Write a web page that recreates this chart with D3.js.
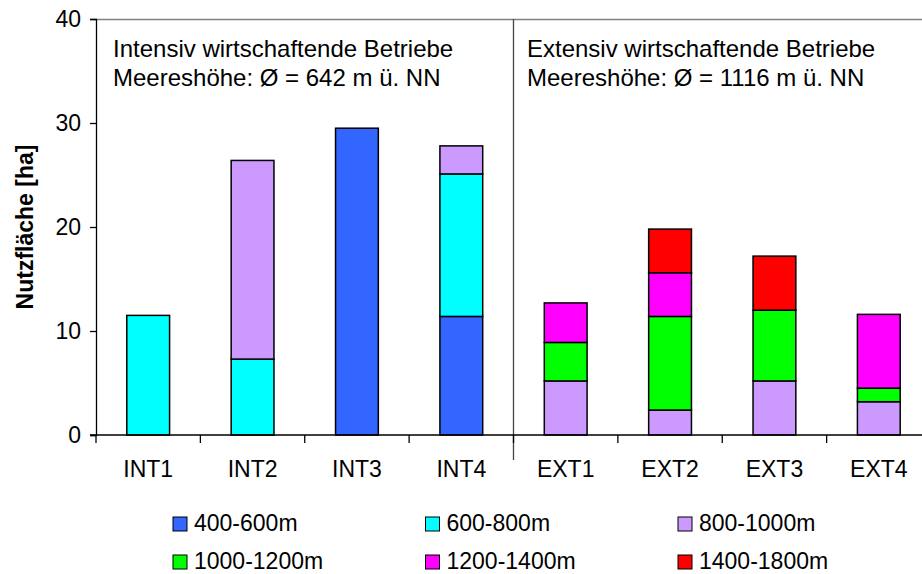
<!DOCTYPE html>
<html><head><meta charset="utf-8">
<script src="https://cdn.jsdelivr.net/npm/d3@7"></script>
<style>body{margin:0;background:#fff}svg{display:block;font-family:"Liberation Sans",Arial,sans-serif}</style>
</head><body><svg id="c" width="922" height="574"></svg>
<script>
const categories = ["INT1","INT2","INT3","INT4","EXT1","EXT2","EXT3","EXT4"];
const seriesNames = ["400-600m","600-800m","800-1000m","1000-1200m","1200-1400m","1400-1800m"];
const colors = ["#3366FF","#00FFFF","#CC99FF","#00FF00","#FF00FF","#FF0000"];
const s400_600   = [0, 0, 29.5, 11.4, 0, 0, 0, 0];
const s600_800   = [11.5, 7.3, 0, 13.7, 0, 0, 0, 0];
const s800_1000  = [0, 19.1, 0, 2.7, 5.2, 2.4, 5.2, 3.2];
const s1000_1200 = [0, 0, 0, 0, 3.7, 9.0, 6.8, 1.3];
const s1200_1400 = [0, 0, 0, 0, 3.8, 4.2, 0, 7.1];
const s1400_1800 = [0, 0, 0, 0, 0, 4.2, 5.2, 0];
const yTicks = [0, 10, 20, 30, 40];
const groupTitles = [["Intensiv wirtschaftende Betriebe","Meereshöhe: Ø = 642 m ü. NN"],
                     ["Extensiv wirtschaftende Betriebe","Meereshöhe: Ø = 1116 m ü. NN"]];
const yLabel = "Nutzfläche [ha]";

const seriesVals = [s400_600, s600_800, s800_1000, s1000_1200, s1200_1400, s1400_1800];
const table = categories.map((c, i) => {
  const o = {cat: c};
  seriesNames.forEach((s, j) => o[s] = seriesVals[j][i]);
  return o;
});
const stacked = d3.stack().keys(seriesNames)(table);

const svg = d3.select("#c");
const L = 96, R = 931, T = 19, B = 435;
const x = d3.scaleBand().domain(categories).range([L, R]).padding(0);
const y = d3.scaleLinear().domain([0, 40]).range([B, T]);
const font = 23;

// top border
svg.append("line").attr("x1", L).attr("x2", 922).attr("y1", T + 0.5).attr("y2", T + 0.5)
  .attr("stroke", "#808080").attr("stroke-width", 1.5);

// bars
const bw = x.bandwidth() * 0.41;
stacked.forEach((layer, j) => {
  svg.append("g").selectAll("rect").data(layer.filter(d => d[1] - d[0] > 0)).join("rect")
    .attr("x", d => x(d.data.cat) + (x.bandwidth() - bw) / 2)
    .attr("y", d => y(d[1]))
    .attr("width", bw)
    .attr("height", d => y(d[0]) - y(d[1]))
    .attr("fill", colors[j])
    .attr("stroke", "#000").attr("stroke-width", 1.5);
});

// divider
svg.append("line").attr("x1", x("EXT1")).attr("x2", x("EXT1")).attr("y1", T).attr("y2", 460)
  .attr("stroke", "#444").attr("stroke-width", 1.3);

// y axis
const ya = svg.append("g").attr("transform", `translate(${L},0)`)
  .call(d3.axisLeft(y).tickValues(yTicks).tickSize(6).tickPadding(9).tickFormat(d3.format("d")));
ya.select(".domain").attr("stroke", "#000").attr("stroke-width", 1.3);
ya.selectAll(".tick line").attr("stroke", "#000").attr("stroke-width", 1.3);
ya.selectAll("text").attr("font-size", font).attr("fill", "#000").attr("font-family", "Liberation Sans, Arial");

// x axis
const xa = svg.append("g").attr("transform", `translate(0,${B})`)
  .call(d3.axisBottom(x).tickSize(0).tickPadding(20));
xa.select(".domain").remove();
svg.append("line").attr("x1", L - 6).attr("x2", 922).attr("y1", B).attr("y2", B)
  .attr("stroke", "#000").attr("stroke-width", 1.3);
xa.selectAll("text").attr("font-size", font).attr("fill", "#000").attr("dy", 0)
  .attr("y", 42).attr("font-family", "Liberation Sans, Arial");
// boundary ticks
svg.append("g").selectAll("line").data(categories).join("line")
  .attr("x1", d => x(d)).attr("x2", d => x(d)).attr("y1", B).attr("y2", B + 8)
  .attr("stroke", "#000").attr("stroke-width", 1.3);

// y label
svg.append("text").attr("transform", `translate(33,${(T + B) / 2}) rotate(-90)`)
  .attr("text-anchor", "middle").attr("font-size", 23).attr("font-weight", "bold")
  .text(yLabel);

// group titles
[["INT1", 113], ["EXT1", 527]].forEach(([c, xx], i) => {
  groupTitles[i].forEach((t, k) => {
    svg.append("text").attr("x", xx).attr("y", 57 + k * 29)
      .attr("font-size", 24).attr("fill", "#000").text(t);
  });
});

// legend
const lx = d3.scalePoint().domain([0, 1, 2]).range([173, 678]);
const ly = d3.scalePoint().domain([0, 1]).range([531, 569]);
seriesNames.forEach((s, i) => {
  const cx = lx(i % 3), by = ly(Math.floor(i / 3));
  svg.append("rect").attr("x", cx).attr("y", by - 14).attr("width", 14).attr("height", 14)
    .attr("fill", colors[i]).attr("stroke", "#000").attr("stroke-width", 1);
  svg.append("text").attr("x", cx + 21).attr("y", by).attr("font-size", font)
    .attr("fill", "#000").text(s);
});
</script></body></html>
